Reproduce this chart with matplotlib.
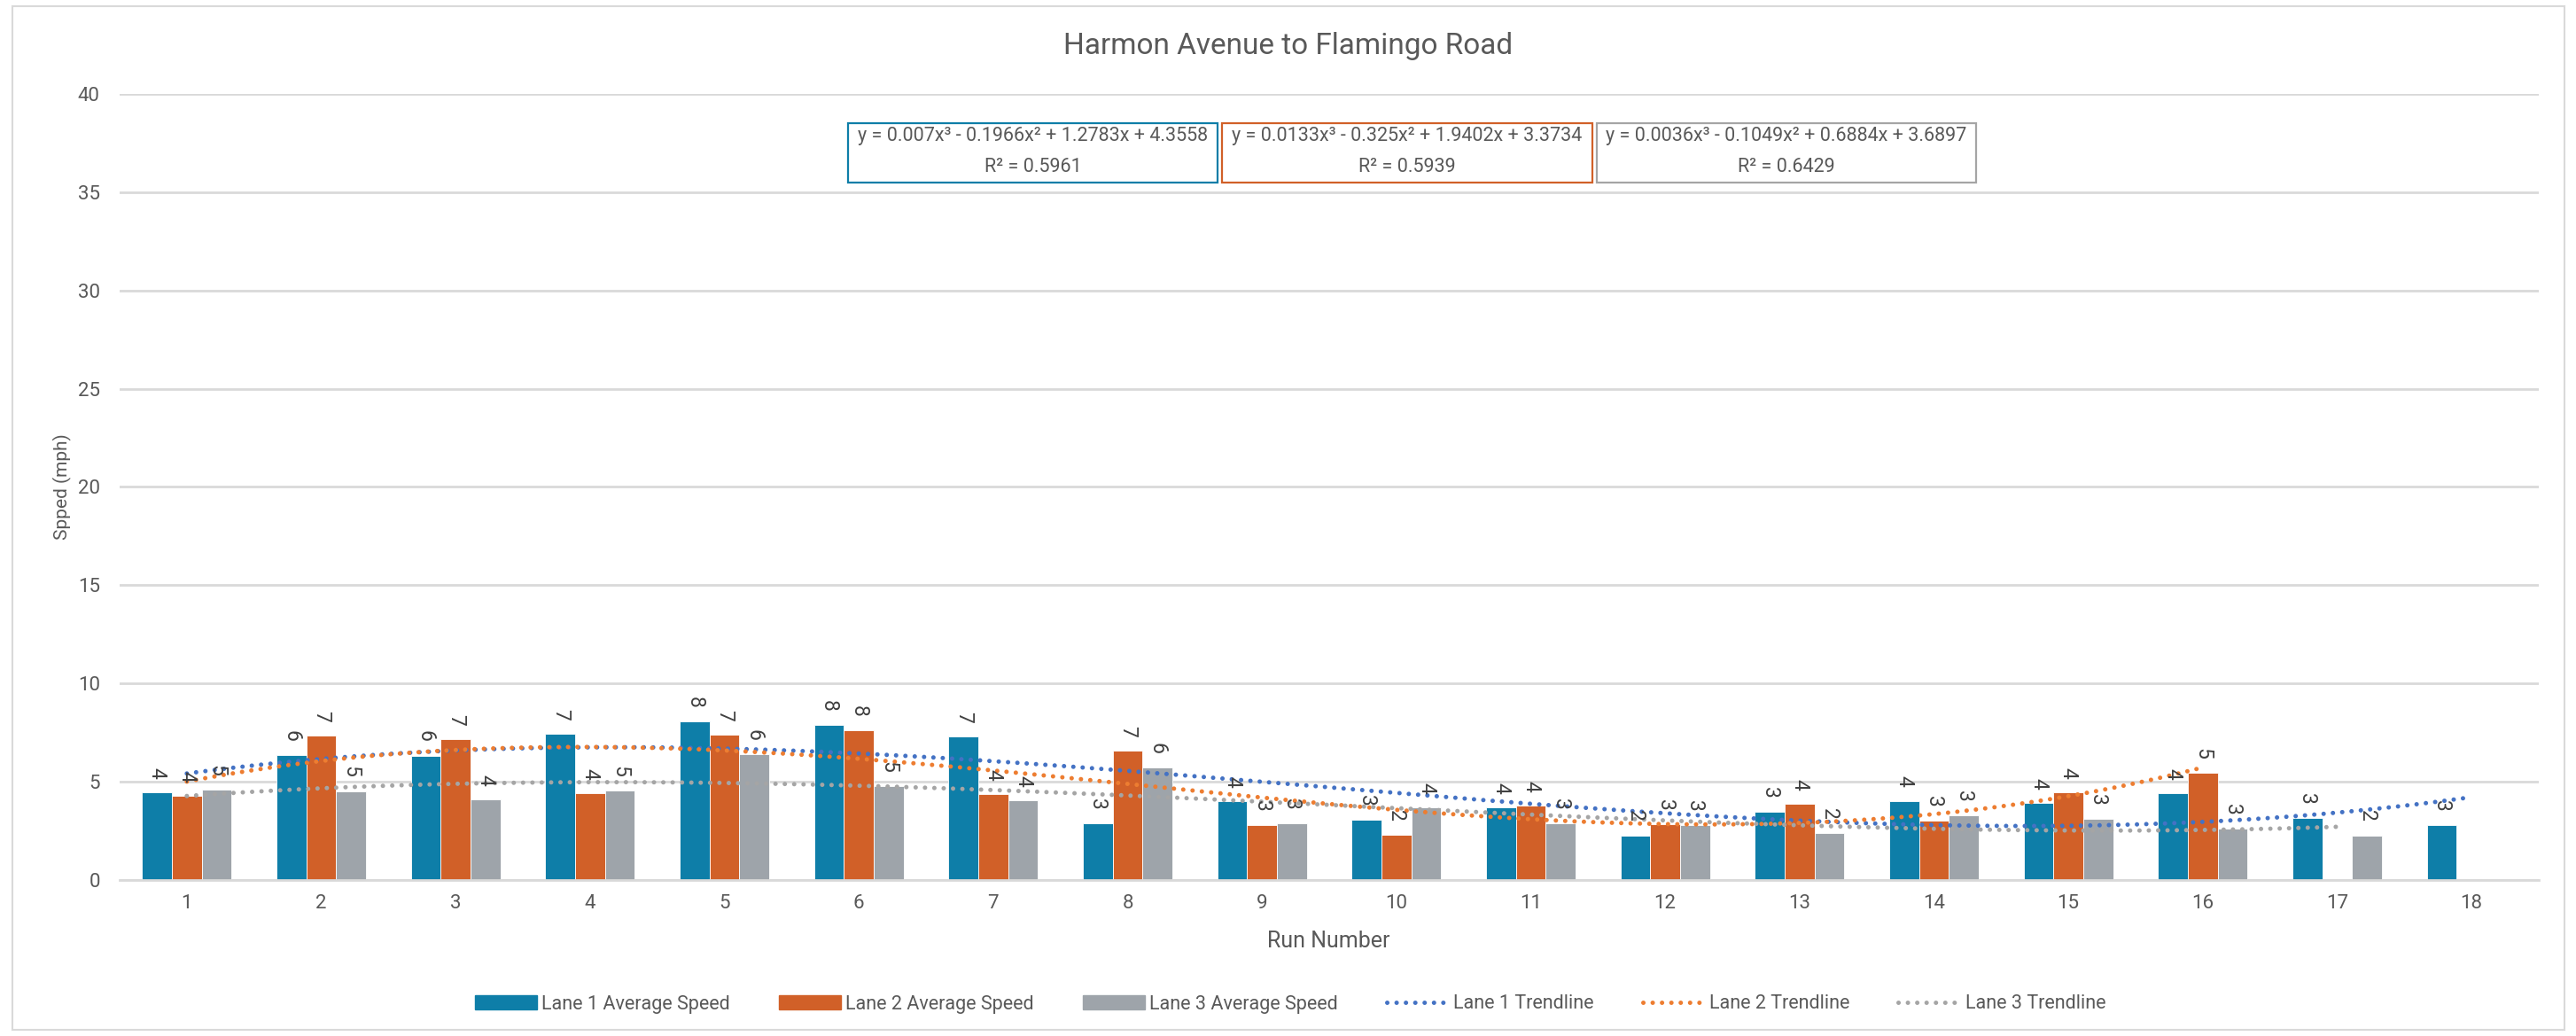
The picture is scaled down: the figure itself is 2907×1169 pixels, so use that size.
import numpy as np
import matplotlib.pyplot as plt
from matplotlib.patches import Rectangle, Patch
from matplotlib.lines import Line2D

plt.rcParams['font.family'] = ['Roboto', 'DejaVu Sans']

# data
runs = np.arange(1, 19)
lane1 = [4.44, 6.35, 6.32, 7.42, 8.05, 7.88, 7.28, 2.89, 3.98, 3.07, 3.67, 2.26, 3.46, 4.02, 3.90, 4.40, 3.15, 2.80]
lane2 = [4.25, 7.33, 7.15, 4.41, 7.40, 7.60, 4.35, 6.57, 2.77, 2.28, 3.78, 2.82, 3.87, 3.01, 4.44, 5.43, np.nan, np.nan]
lane3 = [4.59, 4.52, 4.07, 4.53, 6.39, 4.77, 4.05, 5.70, 2.86, 3.69, 2.86, 2.77, 2.37, 3.27, 3.09, 2.62, 2.26, np.nan]
series_names = ['Lane 1 Average Speed', 'Lane 2 Average Speed', 'Lane 3 Average Speed']
trend_names = ['Lane 1 Trendline', 'Lane 2 Trendline', 'Lane 3 Trendline']
equations = [
    ('y = 0.007x³ - 0.1966x² + 1.2783x + 4.3558', 'R² = 0.5961'),
    ('y = 0.0133x³ - 0.325x² + 1.9402x + 3.3734', 'R² = 0.5939'),
    ('y = 0.0036x³ - 0.1049x² + 0.6884x + 3.6897', 'R² = 0.6429'),
]

bar_colors = ['#0E7EA8', '#D16028', '#9EA4AA']
trend_colors = ['#4472C4', '#ED7D31', '#A5A5A5']
text_col = '#595959'

W, H = 2907, 1169
fig = plt.figure(figsize=(W / 100, H / 100), dpi=100)
ax = fig.add_axes([135 / W, 1 - 992.7 / H, (2865 - 135) / W, (992.7 - 106) / H])

bw = 2 / 9
for i, vals in enumerate([lane1, lane2, lane3]):
    vals = np.array(vals, dtype=float)
    xs = runs + (i - 1) * bw
    ax.bar(xs, vals, width=bw, color=bar_colors[i], edgecolor='white', linewidth=0.6, zorder=2)
    for x, v in zip(xs, vals):
        if np.isnan(v):
            continue
        ax.annotate(f'{v:.0f}', (x, v), xytext=(0, 11), textcoords='offset points',
                    rotation=-90, ha='center', va='bottom', fontsize=16.5, color='#404040', zorder=5)

    # cubic trendline over the runs that have data
    ok = ~np.isnan(vals)
    coef = np.polyfit(runs[ok], vals[ok], 3)
    xt = np.linspace(runs[ok].min(), runs[ok].max(), 300)
    ax.plot(xt, np.polyval(coef, xt), color=trend_colors[i], lw=3.6,
            linestyle=(0, (0.01, 2.1)), dash_capstyle='round', zorder=4)

ax.set_xlim(0.5, 18.5)
ax.set_ylim(0, 40)
ax.set_yticks(range(0, 41, 5))
ax.set_xticks(runs)
ax.tick_params(length=0, labelsize=16, labelcolor=text_col)
ax.tick_params(axis='y', pad=16)
ax.tick_params(axis='x', pad=12)
ax.grid(axis='y', color='#D9D9D9', lw=2, zorder=0)
ax.set_axisbelow(True)
for s in ['top', 'right', 'left']:
    ax.spines[s].set_visible(False)
ax.spines['bottom'].set_color('#D9D9D9')
ax.spines['bottom'].set_linewidth(2)

fig.text(1454 / W, 1 - 52 / H, 'Harmon Avenue to Flamingo Road', ha='center', va='center',
         fontsize=24, color=text_col)
fig.text(70 / W, 1 - 549 / H, 'Spped (mph)', rotation=90, ha='center', va='center',
         fontsize=15, color=text_col)
fig.text(1499 / W, 1 - 1062 / H, 'Run Number', ha='center', va='center', fontsize=18, color=text_col)

# equation boxes
boxes = [(957, 1374), (1379, 1797), (1802, 2230)]
for (x0, x1), (l1, l2), c in zip(boxes, equations, bar_colors[:2] + ['#A5A5A5']):
    fig.patches.append(Rectangle((x0 / W, 1 - 206 / H), (x1 - x0) / W, 67 / H, transform=fig.transFigure,
                                 facecolor='white', edgecolor=c, lw=1.6, zorder=3))
    fig.text((x0 + x1) / 2 / W, 1 - 154 / H, l1, ha='center', va='center', fontsize=15.5, color=text_col)
    fig.text((x0 + x1) / 2 / W, 1 - 188 / H, l2, ha='center', va='center', fontsize=15.5, color=text_col)

# chart border
fig.patches.append(Rectangle((14 / W, 1 - 1162 / H), (2894 - 14) / W, (1162 - 7) / H, transform=fig.transFigure,
                             fill=False, edgecolor='#D9D9D9', lw=1.5))

handles = [Patch(color=c) for c in bar_colors] + \
          [Line2D([], [], color=c, lw=3.6, linestyle=(0, (0.01, 2.1)), dash_capstyle='round') for c in trend_colors]
fig.legend(handles, series_names + trend_names, loc='center', bbox_to_anchor=(1456 / W, 1 - 1133 / H),
           ncol=6, frameon=False, fontsize=15.5, labelcolor=text_col, handlelength=3.25,
           handletextpad=0.25, columnspacing=2.55)

fig.savefig('out.png', dpi=100)
